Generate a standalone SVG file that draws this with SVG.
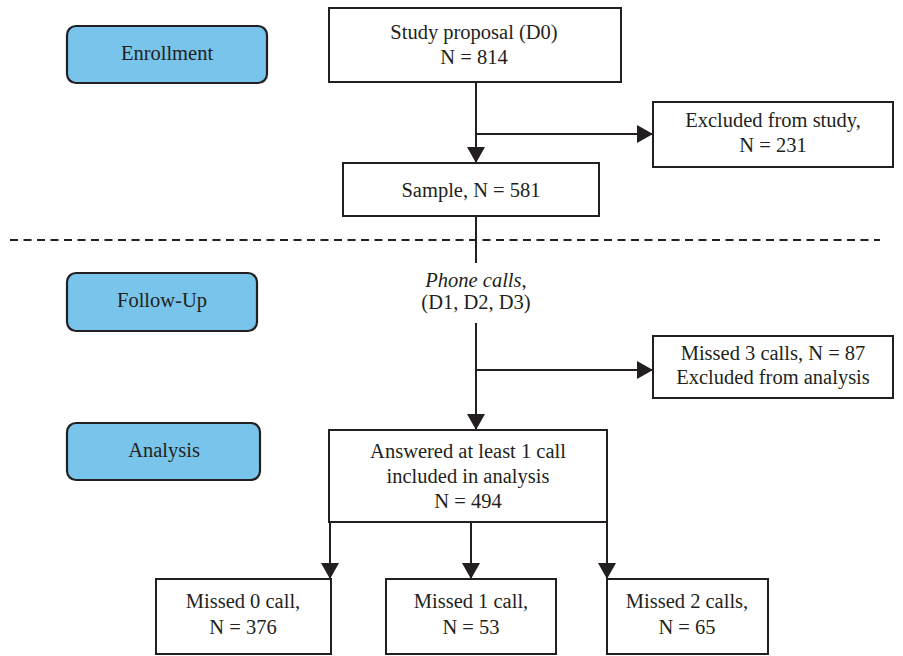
<svg xmlns="http://www.w3.org/2000/svg" width="903" height="656" viewBox="0 0 903 656">
<style>
  text { font-family: "Liberation Serif", "DejaVu Serif", serif; font-size: 20.5px; fill: #231f20; text-anchor: middle; }
  .box { fill: #ffffff; stroke: #231f20; stroke-width: 2; }
  .phase { fill: #79c4ea; stroke: #231f20; stroke-width: 2.2; }
  .conn { fill: none; stroke: #231f20; stroke-width: 2; }
  .dash { fill: none; stroke: #231f20; stroke-width: 2; stroke-dasharray: 8 5.5; }
</style>
<defs>
  <marker id="ah" markerUnits="userSpaceOnUse" markerWidth="16" markerHeight="18" refX="16" refY="9" orient="auto">
    <path d="M0,0 L16,9 L0,18 z" fill="#231f20"/>
  </marker>
</defs>
<rect width="903" height="656" fill="#ffffff"/>

<g id="connectors">
  <path class="dash" d="M10,240 H880"/>
  <path class="conn" d="M476,82 V163" marker-end="url(#ah)"/>
  <path class="conn" d="M476,134 H653" marker-end="url(#ah)"/>
  <path class="conn" d="M476,216 V263"/>
  <path class="conn" d="M476,323 V430" marker-end="url(#ah)"/>
  <path class="conn" d="M476,370 H653" marker-end="url(#ah)"/>
  <path class="conn" d="M330,522 V579" marker-end="url(#ah)"/>
  <path class="conn" d="M471,522 V579" marker-end="url(#ah)"/>
  <path class="conn" d="M607,522 V579" marker-end="url(#ah)"/>
</g>

<g id="enrollment">
  <rect class="phase" x="67" y="26" width="200" height="57" rx="9"/>
  <text x="167" y="60">Enrollment</text>
</g>
<g id="followup">
  <rect class="phase" x="67" y="273" width="190" height="58" rx="9"/>
  <text x="162" y="307">Follow-Up</text>
</g>
<g id="analysis">
  <rect class="phase" x="67" y="423" width="193" height="57" rx="9"/>
  <text x="164" y="457">Analysis</text>
</g>

<g id="study">
  <rect class="box" x="329" y="8" width="292" height="74"/>
  <text x="474" y="39">Study proposal (D0)</text>
  <text x="474" y="64">N = 814</text>
</g>
<g id="excluded-study">
  <rect class="box" x="653" y="102" width="240" height="65"/>
  <text x="773" y="127">Excluded from study,</text>
  <text x="773" y="152">N = 231</text>
</g>
<g id="sample">
  <rect class="box" x="343" y="163" width="256" height="53"/>
  <text x="471" y="197">Sample, N = 581</text>
</g>
<g id="phone-calls">
  <text x="476" y="287"><tspan font-style="italic">Phone calls</tspan>,</text>
  <text x="476" y="309">(D1, D2, D3)</text>
</g>
<g id="excluded-analysis">
  <rect class="box" x="653" y="336" width="240" height="62"/>
  <text x="773" y="360">Missed 3 calls, N = 87</text>
  <text x="773" y="384">Excluded from analysis</text>
</g>
<g id="answered">
  <rect class="box" x="329" y="430" width="278" height="92"/>
  <text x="468" y="458">Answered at least 1 call</text>
  <text x="468" y="483">included in analysis</text>
  <text x="468" y="508">N = 494</text>
</g>
<g id="missed0">
  <rect class="box" x="156" y="579" width="175" height="75"/>
  <text x="243" y="608">Missed 0 call,</text>
  <text x="243" y="634">N = 376</text>
</g>
<g id="missed1">
  <rect class="box" x="386" y="579" width="170" height="75"/>
  <text x="471" y="608">Missed 1 call,</text>
  <text x="471" y="634">N = 53</text>
</g>
<g id="missed2">
  <rect class="box" x="607" y="579" width="161" height="75"/>
  <text x="687" y="608">Missed 2 calls,</text>
  <text x="687" y="634">N = 65</text>
</g>
</svg>
